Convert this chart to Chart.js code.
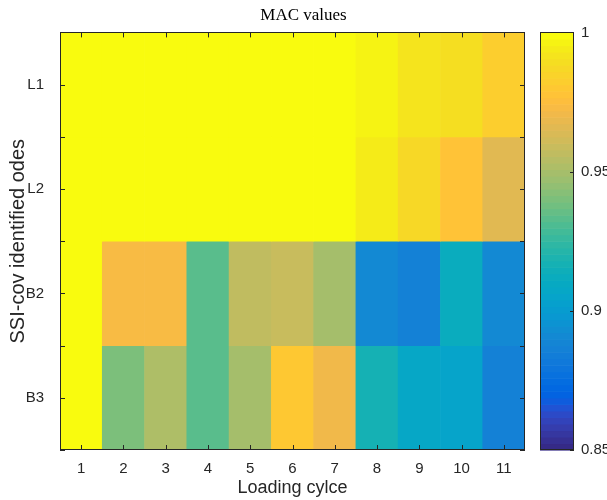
<!DOCTYPE html>
<html>
<head>
<meta charset="utf-8">
<script src="https://cdn.jsdelivr.net/npm/chart.js@4/dist/chart.umd.min.js"></script>
<style>
  body { margin: 0; background: #fff; }
  #wrap { width: 607px; height: 500px; }
</style>
</head>
<body>
<div id="wrap"><canvas id="macChart" width="607" height="500"></canvas></div>
<script>
// data
const cycles = ['1', '2', '3', '4', '5', '6', '7', '8', '9', '10', '11'];
const modes = ['L1', 'L2', 'B2', 'B3'];
const macL1 = [1, 1, 1, 1, 1, 1, 1, 0.9965, 0.9918, 0.9895, 0.9824];
const macL2 = [1, 1, 1, 1, 1, 1, 1, 0.9941, 0.9871, 0.9777, 0.9660];
const macB2 = [1, 0.9730, 0.9730, 0.9332, 0.9566, 0.9590, 0.9496, 0.8910, 0.8863, 0.9121, 0.8905];
const macB3 = [1, 0.9402, 0.9520, 0.9332, 0.9496, 0.9801, 0.9707, 0.9168, 0.9074, 0.9051, 0.8863];
const cbTicks = [0.85, 0.9, 0.95, 1];
const cMin = 0.85, cMax = 1;

// MATLAB parula, 64 steps
const parula = [
  [0.2081,0.1663,0.5292],[0.2116,0.1898,0.5777],[0.2123,0.2138,0.6270],[0.2081,0.2386,0.6771],
  [0.1959,0.2645,0.7279],[0.1707,0.2919,0.7792],[0.1253,0.3242,0.8303],[0.0591,0.3598,0.8683],
  [0.0117,0.3875,0.8820],[0.0060,0.4086,0.8828],[0.0165,0.4266,0.8786],[0.0329,0.4430,0.8720],
  [0.0498,0.4586,0.8641],[0.0629,0.4737,0.8554],[0.0723,0.4887,0.8467],[0.0779,0.5040,0.8384],
  [0.0793,0.5200,0.8312],[0.0749,0.5375,0.8263],[0.0641,0.5570,0.8240],[0.0488,0.5772,0.8228],
  [0.0343,0.5966,0.8199],[0.0265,0.6137,0.8135],[0.0239,0.6287,0.8038],[0.0231,0.6418,0.7913],
  [0.0228,0.6535,0.7768],[0.0267,0.6642,0.7607],[0.0384,0.6743,0.7436],[0.0590,0.6838,0.7254],
  [0.0843,0.6928,0.7062],[0.1133,0.7015,0.6859],[0.1453,0.7098,0.6646],[0.1801,0.7177,0.6424],
  [0.2178,0.7250,0.6193],[0.2586,0.7317,0.5954],[0.3022,0.7376,0.5712],[0.3482,0.7424,0.5473],
  [0.3953,0.7459,0.5244],[0.4420,0.7481,0.5033],[0.4871,0.7491,0.4840],[0.5300,0.7491,0.4661],
  [0.5709,0.7485,0.4494],[0.6099,0.7473,0.4337],[0.6473,0.7456,0.4188],[0.6834,0.7435,0.4044],
  [0.7184,0.7411,0.3905],[0.7525,0.7384,0.3768],[0.7858,0.7356,0.3633],[0.8185,0.7327,0.3498],
  [0.8507,0.7299,0.3360],[0.8824,0.7274,0.3217],[0.9139,0.7258,0.3063],[0.9450,0.7261,0.2886],
  [0.9739,0.7314,0.2666],[0.9938,0.7455,0.2403],[0.9990,0.7653,0.2164],[0.9955,0.7861,0.1967],
  [0.9880,0.8066,0.1794],[0.9789,0.8271,0.1633],[0.9697,0.8481,0.1475],[0.9626,0.8705,0.1309],
  [0.9589,0.8949,0.1132],[0.9598,0.9218,0.0948],[0.9661,0.9514,0.0755],[0.9763,0.9831,0.0538]
];

function cmapIndex(v) {
  return Math.min(63, Math.max(0, Math.floor((v - cMin) / (cMax - cMin) * 64)));
}
function rgb(c) {
  return 'rgb(' + c.map(x => Math.round(x * 255)).join(',') + ')';
}
function macColor(v) {
  return rgb(parula[cmapIndex(v)]);
}

const rows = [macL1, macL2, macB2, macB3];
const datasets = rows.map((vals, r) => ({
  label: modes[r],
  data: vals.map(() => [r + 0.5, r + 1.5]),
  backgroundColor: vals.map(macColor),
  borderWidth: 0,
  grouped: false,
  barPercentage: 1,
  categoryPercentage: 1
}));

const axisColor = '#262626';

// tick marks inside the box, the box itself and the colour bar
const axesDecor = {
  id: 'axesDecor',
  afterDatasetsDraw(chart) {
    const { ctx, chartArea: a, scales } = chart;
    ctx.save();
    ctx.strokeStyle = axisColor;
    ctx.lineWidth = 1;
    ctx.beginPath();
    cycles.forEach((c, i) => {
      const x = Math.round(scales.x.getPixelForValue(i)) + 0.5;
      ctx.moveTo(x, a.bottom); ctx.lineTo(x, a.bottom - 5);
      ctx.moveTo(x, a.top); ctx.lineTo(x, a.top + 5);
    });
    scales.y.ticks.forEach(t => {
      const y = Math.round(scales.y.getPixelForValue(t.value)) + 0.5;
      ctx.moveTo(a.left, y); ctx.lineTo(a.left + 5, y);
      ctx.moveTo(a.right, y); ctx.lineTo(a.right - 5, y);
    });
    ctx.stroke();
    ctx.strokeRect(Math.round(a.left) + 0.5, Math.round(a.top) + 0.5,
      Math.round(a.width) - 1, Math.round(a.height) - 1);

    // colour bar
    const cb = scales.cb;
    const x0 = Math.round(a.right) + 15, w = 34;
    for (let k = 0; k < 64; k++) {
      const vLo = cMin + k * (cMax - cMin) / 64;
      const vHi = cMin + (k + 1) * (cMax - cMin) / 64;
      const yTop = cb.getPixelForValue(vHi), yBot = cb.getPixelForValue(vLo);
      ctx.fillStyle = rgb(parula[k]);
      ctx.fillRect(x0, yTop, w, yBot - yTop + 0.6);
    }
    ctx.strokeRect(x0 + 0.5, Math.round(cb.top) + 0.5, w - 1, Math.round(cb.bottom - cb.top) - 1);
    ctx.beginPath();
    cbTicks.forEach(v => {
      const y = Math.round(cb.getPixelForValue(v)) + 0.5;
      ctx.moveTo(x0 + w, y); ctx.lineTo(x0 + w - 4, y);
    });
    ctx.stroke();
    ctx.restore();
  }
};

// keep label overhang out of the layout so the box lands where MATLAB put it
function noOverhang(s) {
  s.paddingTop = 0; s.paddingBottom = 0;
  s.paddingLeft = 0; s.paddingRight = 0;
}

Chart.defaults.font.family = '"Liberation Sans", Arial, sans-serif';
Chart.defaults.color = axisColor;

const ctx = document.getElementById('macChart').getContext('2d');
const macChart = new Chart(ctx, {
  type: 'bar',
  data: { labels: cycles, datasets: datasets },
  options: {
    responsive: false,
    animation: false,
    layout: { padding: 0 },
    plugins: {
      legend: { display: false },
      tooltip: { enabled: false },
      title: {
        display: true,
        text: 'MAC values',
        color: '#000',
        font: { family: '"Liberation Serif", "DejaVu Serif", serif', size: 17, weight: 'normal' },
        padding: { top: 5, bottom: 7 }
      }
    },
    scales: {
      x: {
        type: 'category',
        grid: { display: false, drawTicks: false },
        border: { display: false },
        ticks: { font: { size: 15 }, padding: 10, maxRotation: 0 },
        title: { display: true, text: 'Loading cylce', font: { size: 18 }, padding: { top: 0, bottom: 1 } },
        afterFit: s => { s.height = 50; noOverhang(s); }
      },
      y: {
        type: 'linear',
        min: 0.5,
        max: 4.5,
        reverse: true,
        grid: { display: false, drawTicks: false },
        border: { display: false },
        afterBuildTicks: s => {
          const t = [];
          for (let i = 0; i <= modes.length * 2; i++) t.push({ value: 0.5 + i * 0.5 });
          s.ticks = t;
        },
        ticks: {
          font: { size: 15 },
          padding: 16,
          autoSkip: false,
          callback: v => Number.isInteger(v) ? modes[v - 1] : ''
        },
        title: { display: true, text: 'SSI-cov identified odes', font: { size: 20 }, padding: { top: 6, bottom: 0 } },
        afterFit: s => { s.width = 60; noOverhang(s); }
      },
      cb: {
        type: 'linear',
        position: 'right',
        min: cMin,
        max: cMax,
        grid: { display: false, drawTicks: false },
        border: { display: false },
        afterBuildTicks: s => { s.ticks = cbTicks.map(v => ({ value: v })); },
        ticks: { font: { size: 15 }, padding: 56, callback: v => String(v) },
        afterFit: s => { s.width = 82; noOverhang(s); }
      }
    }
  },
  plugins: [axesDecor]
});
</script>
</body>
</html>
